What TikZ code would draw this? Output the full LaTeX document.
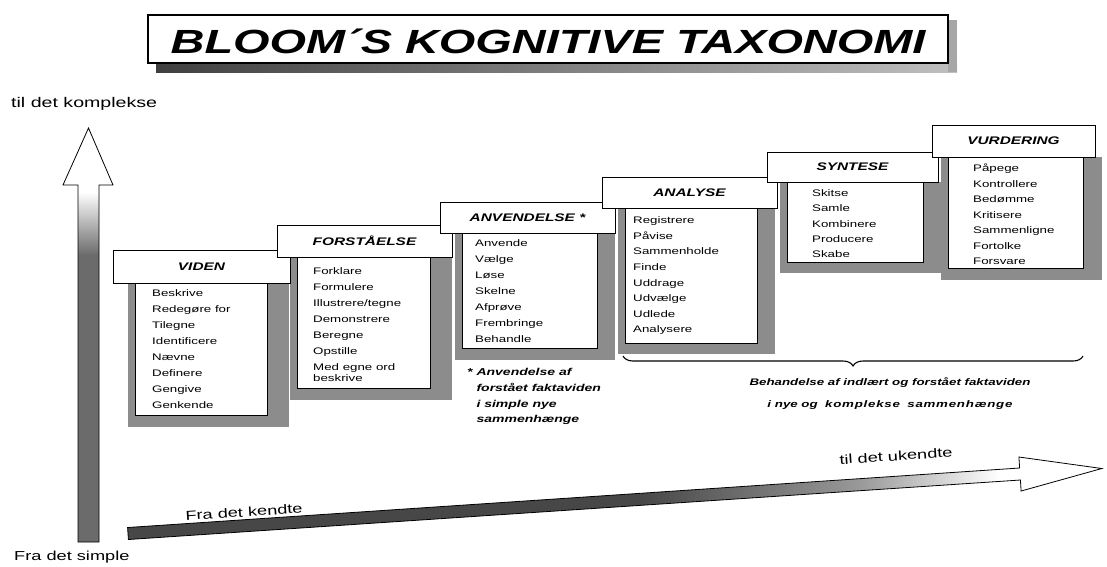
\documentclass[tikz,border=0pt]{standalone}
\usepackage{fontspec}
\setmainfont{Liberation Sans}[FakeStretch=1.4]
\usetikzlibrary{decorations.pathreplacing}
\begin{document}
\begin{tikzpicture}[x=1pt,y=-1pt,
  hdr/.style={draw, fill=white, line width=1pt, inner sep=0pt,
    font=\fontsize{11}{13}\selectfont\bfseries\itshape},
  bodybox/.style={draw, fill=white, line width=0.9pt, inner sep=0pt},
  shadowfill/.style={fill=black!45},
  items/.style={anchor=north west, align=left, inner sep=0pt,
    font=\fontsize{9.5}{16}\selectfont},
  lbl/.style={inner sep=0pt, font=\fontsize{13}{15}\selectfont},
  note/.style={inner sep=0pt, font=\fontsize{9.5}{16}\selectfont\bfseries\itshape},
  arrowline/.style={line width=0.8pt}
]
\useasboundingbox (0,0) rectangle (1107,566);

% ---------- title ----------
\shade[left color=black!75, right color=black!25] (156,63) rectangle (957,72);
\fill[black!35] (948,20) rectangle (957,72);
\node[draw, fill=white, line width=1.2pt, minimum width=800, minimum height=48, inner sep=0pt] (titlebox) at (548,39) {};
\node[inner sep=0pt, font=\fontsize{33.5}{36}\selectfont\bfseries\itshape] (title) at (548,41.5) {BLOOM´S KOGNITIVE TAXONOMI};

% ---------- vertical arrow ----------
\coordinate (vtip) at (88.5,128);
\coordinate (vhl) at (63,185);
\coordinate (vhr) at (113,185);
\coordinate (vsl) at (78,185);
\coordinate (vsr) at (99,185);
\coordinate (vbl) at (78,542);
\coordinate (vbr) at (99,542);
\begin{scope}
  \clip (vtip) -- (vhr) -- (vsr) -- (vbr) -- (vbl) -- (vsl) -- (vhl) -- cycle;
  \fill[white] (55,120) rectangle (120,192);
  \shade[top color=white, bottom color=black!58] (55,192) rectangle (120,255);
  \fill[black!58] (55,255) rectangle (120,550);
\end{scope}
\draw[arrowline] (vtip) -- (vhr) -- (vsr) -- (vbr) -- (vbl) -- (vsl) -- (vhl) -- cycle;

% ---------- horizontal arrow ----------
\coordinate (h1) at (128.4,539.5);
\coordinate (h2) at (1020.4,480);
\coordinate (h3) at (1021.1,491);
\coordinate (htip) at (1101.8,468.5);
\coordinate (h5) at (1018.9,457);
\coordinate (h6) at (1019.6,468);
\coordinate (h7) at (127.6,527.5);
\begin{scope}
  \clip (h1) -- (h2) -- (h3) -- (htip) -- (h5) -- (h6) -- (h7) -- cycle;
  \fill[black!72] (120,440) rectangle (640,560);
  \shade[left color=black!72, right color=black!40] (640,440) rectangle (860,560);
  \shade[left color=black!40, right color=white] (860,440) rectangle (1000,560);
  \fill[white] (1000,440) rectangle (1110,560);
\end{scope}
\draw[arrowline] (h1) -- (h2) -- (h3) -- (htip) -- (h5) -- (h6) -- (h7) -- cycle;

% ---------- axis labels ----------
\node[lbl, anchor=west, font=\fontsize{14}{16}\selectfont] (komplekse) at (11,104) {til det komplekse};
\node[lbl, anchor=west] (simple) at (14,557) {Fra det simple};
\node[lbl, rotate=3.85] (kendte) at (244,512) {Fra det kendte};
\node[lbl, rotate=3.85] (ukendte) at (896,456) {til det ukendte};

% ---------- shadows ----------
\fill[shadowfill] (128,283) rectangle (289,427);
\fill[shadowfill] (290,257) rectangle (452,400);
\fill[shadowfill] (455,233) rectangle (615,360);
\fill[shadowfill] (618,208) rectangle (775,354);
\fill[shadowfill] (780,182) rectangle (941,273);
\fill[shadowfill] (941,157) rectangle (1102,280);

% ---------- bodies ----------
\node[bodybox, minimum width=132, minimum height=132] (vidbody) at (201,349) {};
\node[bodybox, minimum width=133, minimum height=131] (forbody) at (363.5,322.5) {};
\node[bodybox, minimum width=135, minimum height=115] (anvbody) at (529.5,290.5) {};
\node[bodybox, minimum width=132, minimum height=135] (anabody) at (691,275.5) {};
\node[bodybox, minimum width=136, minimum height=80] (synbody) at (855,222) {};
\node[bodybox, minimum width=135, minimum height=111] (vurbody) at (1015.5,212.5) {};

% ---------- lists ----------
\node[items] (vidlist) at (152,287.4) {\rule{0pt}{9pt}Beskrive\\Redegøre for\\Tilegne\\Identificere\\Nævne\\Definere\\Gengive\\Genkende};
\node[items] (forlist) at (313,265.4) {\rule{0pt}{9pt}Forklare\\Formulere\\Illustrere/tegne\\Demonstrere\\Beregne\\Opstille\\Med egne ord\\[-5pt]beskrive};
\node[items] (anvlist) at (475,237.4) {\rule{0pt}{9pt}Anvende\\Vælge\\Løse\\Skelne\\Afprøve\\Frembringe\\Behandle};
\node[items, font=\fontsize{9.5}{15.6}\selectfont] (analist) at (633,214.4) {\rule{0pt}{9pt}Registrere\\Påvise\\Sammenholde\\Finde\\Uddrage\\Udvælge\\Udlede\\Analysere};
\node[items, font=\fontsize{9.5}{15.3}\selectfont] (synlist) at (812,187.4) {\rule{0pt}{9pt}Skitse\\Samle\\Kombinere\\Producere\\Skabe};
\node[items, font=\fontsize{9.5}{15.5}\selectfont] (vurlist) at (973,162.4) {\rule{0pt}{9pt}Påpege\\Kontrollere\\Bedømme\\Kritisere\\Sammenligne\\Fortolke\\Forsvare};

% ---------- headers ----------
\node[hdr, minimum width=177, minimum height=33] (viden) at (201.5,266.5) {VIDEN};
\node[hdr, minimum width=175, minimum height=32] (forstaaelse) at (364.5,241) {FORSTÅELSE};
\node[hdr, minimum width=175, minimum height=31] (anvendelse) at (527.5,217.5) {ANVENDELSE *};
\node[hdr, minimum width=175, minimum height=31] (analyse) at (689.5,192.5) {ANALYSE};
\node[hdr, minimum width=171, minimum height=30] (syntese) at (852.5,167) {SYNTESE};
\node[hdr, minimum width=163, minimum height=32] (vurdering) at (1013.5,141) {VURDERING};

% ---------- footnote ----------
\node[note, anchor=north west, align=left, font=\fontsize{10}{15.7}\selectfont\bfseries\itshape] (footnote) at (467,366.4)
  {\rule{0pt}{9pt}* Anvendelse af\\\hphantom{* }forstået faktaviden\\\hphantom{* }i simple nye\\\hphantom{* }sammenhænge};

% ---------- brace ----------
\coordinate (bl) at (623,356);
\coordinate (br) at (1083,356);
\draw[line width=1.1pt, decorate, decoration={brace, amplitude=10pt, mirror}] (bl) -- (br);
\node[note, align=center, font=\fontsize{9.5}{22}\selectfont\bfseries\itshape] (bracetxt) at (890,394)
  {Behandelse af indlært og forstået faktaviden\\i nye og \ {\addfontfeature{LetterSpace=8}komplekse} \ {\addfontfeature{LetterSpace=8}sammenhænge}};
\end{tikzpicture}
\end{document}
